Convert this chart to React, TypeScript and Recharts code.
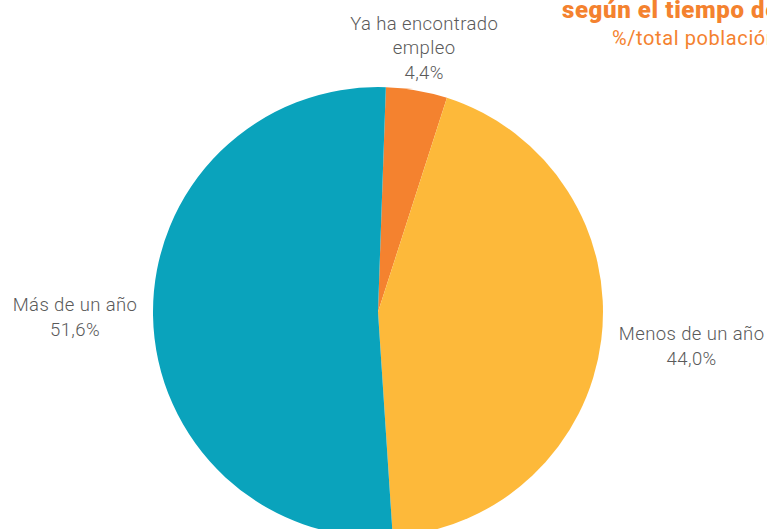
import { PieChart, Pie, Cell } from "recharts"

const categories = ["Ya ha encontrado empleo", "Menos de un año", "Más de un año"]
const labelLines = [["Ya ha encontrado", "empleo"], ["Menos de un año"], ["Más de un año"]]
const values = [4.4, 44.0, 51.6]
const colors = ["#F4822F", "#FDB93A", "#0AA3BC"]

const titleLine1 = "según el tiempo de búsqueda"
const titleLine2 = "%/total población"

// label block placement relative to pie centre
const labelRadius = [268, 316, 303]
const labelShiftY = [0, -4, 1]

const data = categories.map((name, i) => ({ name, value: values[i] }))

const fmt = (v: number) => v.toFixed(1).replace(".", ",") + "%"

const RADIAN = Math.PI / 180

function renderLabel(props: any) {
  const { cx, cy, midAngle, index, value } = props
  const r = labelRadius[index]
  const x = cx + r * Math.cos(-midAngle * RADIAN)
  const y = cy + r * Math.sin(-midAngle * RADIAN) + labelShiftY[index]
  const lines = [...labelLines[index], fmt(value)]
  const lh = 24.5
  const top = y - ((lines.length - 1) * lh) / 2
  return (
    <text
      x={x}
      y={top}
      textAnchor="middle"
      dominantBaseline="central"
      fill="#5a5a5a"
      fontSize={18.5}
      fontFamily="Roboto"
      fontWeight={300}
      letterSpacing={0.4}
    >
      {lines.map((l, k) => (
        <tspan key={k} x={x} y={top + k * lh} dominantBaseline="central">
          {l}
        </tspan>
      ))}
    </text>
  )
}

export default function App() {
  return (
    <div style={{ position: "absolute", left: 0, top: 0, width: 767, height: 529, background: "#fff" }}>
      <PieChart width={767} height={529} margin={{ top: 0, right: 0, bottom: 0, left: 0 }}>
        <Pie
          data={data}
          dataKey="value"
          nameKey="name"
          cx={378}
          cy={312}
          outerRadius={225}
          startAngle={88}
          endAngle={-272}
          stroke="none"
          label={renderLabel}
          labelLine={false}
          isAnimationActive={false}
        >
          {data.map((d, i) => (
            <Cell key={d.name} fill={colors[i]} />
          ))}
        </Pie>
        <text x={562} y={18} fill="#F4822F" fontSize={24} fontWeight={900} fontFamily="Roboto" letterSpacing={0.6}>
          {titleLine1}
        </text>
        <text x={612} y={45} fill="#F4822F" fontSize={20} fontWeight={400} fontFamily="Roboto" letterSpacing={0.6}>
          {titleLine2}
        </text>
      </PieChart>
    </div>
  )
}
